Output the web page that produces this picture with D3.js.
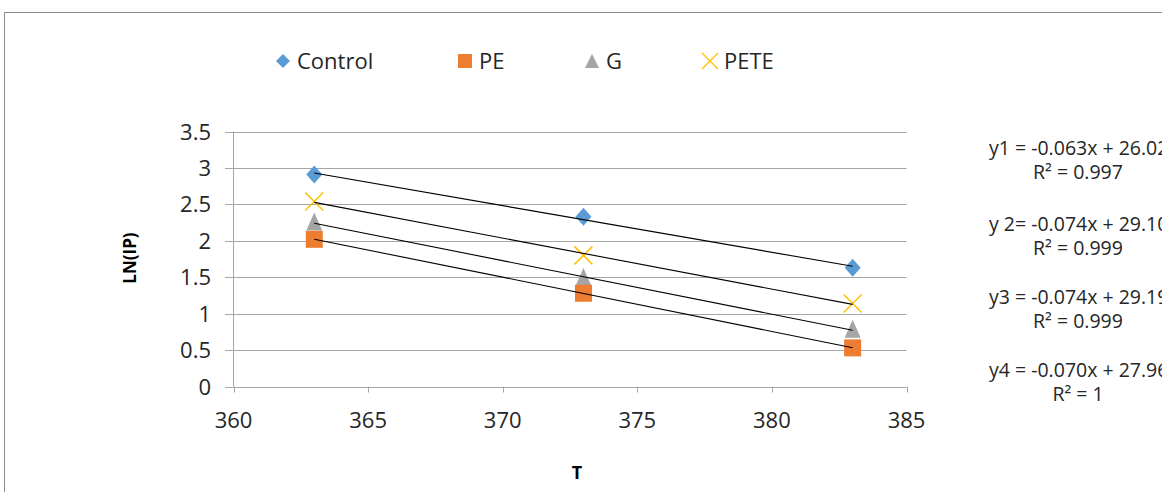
<!DOCTYPE html>
<html>
<head>
<meta charset="utf-8">
<script src="https://cdn.jsdelivr.net/npm/d3@7"></script>
<style>
  html, body { margin: 0; padding: 0; background: #fff; }
  svg { display: block; }
</style>
</head>
<body>
<div id="chart"></div>
<script>
// temperatures (T) and LN(IP) per series
const temps = [363, 373, 383];
const controlVals = [2.91, 2.33, 1.63];
const peVals = [2.02, 1.28, 0.53];
const gVals = [2.25, 1.49, 0.78];
const peteVals = [2.54, 1.80, 1.14];

const seriesNames = ["Control", "PE", "G", "PETE"];
const yTicks = [0, 0.5, 1, 1.5, 2, 2.5, 3, 3.5];
const xTicks = [360, 365, 370, 375, 380, 385];

const equations = [
  ["y1 = -0.063x + 26.02", "R\u00b2 = 0.997"],
  ["y 2= -0.074x + 29.10", "R\u00b2 = 0.999"],
  ["y3 = -0.074x + 29.19", "R\u00b2 = 0.999"],
  ["y4 = -0.070x + 27.96", "R\u00b2 = 1"]
];

const width = 1162, height = 492;
const FONT = "'Open Sans', 'Noto Sans', sans-serif";

const series = [
  { name: "Control", values: controlVals, color: "#5b9bd5", shape: "diamond" },
  { name: "PE", values: peVals, color: "#ed7d31", shape: "square" },
  { name: "G", values: gVals, color: "#a5a5a5", shape: "triangle" },
  { name: "PETE", values: peteVals, color: "#ffc000", shape: "x" }
];

const svg = d3.select("#chart").append("svg")
  .attr("width", width)
  .attr("height", height);

// chart frame (runs off the right and bottom edges)
svg.append("rect")
  .attr("x", 4.5).attr("y", 12.5)
  .attr("width", 1300).attr("height", 600)
  .attr("fill", "#fff")
  .attr("stroke", "#8c8c8c")
  .attr("stroke-width", 1);

const x = d3.scaleLinear().domain([360, 385]).range([233.5, 906.5]);
const y = d3.scaleLinear().domain([0, 3.5]).range([386.5, 131.5]);

// horizontal gridlines + left ticks
svg.append("g").selectAll("line").data(yTicks).join("line")
  .attr("x1", 225).attr("x2", x(385))
  .attr("y1", d => Math.round(y(d)) + 0.5).attr("y2", d => Math.round(y(d)) + 0.5)
  .attr("stroke", "#a6a6a6").attr("stroke-width", 1);

// y axis line
svg.append("line")
  .attr("x1", x(360)).attr("x2", x(360))
  .attr("y1", y(3.5)).attr("y2", y(0))
  .attr("stroke", "#a6a6a6");

// x ticks
svg.append("g").selectAll("line").data(xTicks).join("line")
  .attr("x1", d => Math.round(x(d)) + 0.5).attr("x2", d => Math.round(x(d)) + 0.5)
  .attr("y1", y(0)).attr("y2", y(0) + 6)
  .attr("stroke", "#a6a6a6");

// tick labels
svg.append("g").selectAll("text").data(yTicks).join("text")
  .attr("x", 211).attr("y", d => y(d) + 8)
  .attr("text-anchor", "end")
  .attr("font-family", FONT).attr("font-size", 22).attr("fill", "#262626")
  .text(d => d);

svg.append("g").selectAll("text").data(xTicks).join("text")
  .attr("x", d => x(d)).attr("y", 428)
  .attr("text-anchor", "middle")
  .attr("font-family", FONT).attr("font-size", 22).attr("fill", "#262626")
  .text(d => d);

// axis titles
svg.append("text")
  .attr("transform", "translate(136,258) rotate(-90)")
  .attr("text-anchor", "middle")
  .attr("font-family", FONT).attr("font-size", 17).attr("font-weight", "bold").attr("fill", "#000")
  .text("LN(IP)");

svg.append("text")
  .attr("x", 577).attr("y", 479)
  .attr("text-anchor", "middle")
  .attr("font-family", FONT).attr("font-size", 18).attr("font-weight", "bold").attr("fill", "#000")
  .text("T");

function drawMarker(g, shape, color, cx, cy) {
  if (shape === "diamond") {
    g.append("path").attr("d", `M${cx},${cy - 9}L${cx + 8},${cy}L${cx},${cy + 9}L${cx - 8},${cy}Z`).attr("fill", color);
  } else if (shape === "square") {
    g.append("rect").attr("x", cx - 8.5).attr("y", cy - 8.5).attr("width", 17).attr("height", 17).attr("fill", color);
  } else if (shape === "triangle") {
    g.append("path").attr("d", `M${cx},${cy - 10}L${cx + 8},${cy + 8}L${cx - 8},${cy + 8}Z`).attr("fill", color);
  } else {
    g.append("path").attr("d", `M${cx - 9},${cy - 9}L${cx + 9},${cy + 9}M${cx + 9},${cy - 9}L${cx - 9},${cy + 9}`)
      .attr("stroke", color).attr("stroke-width", 1.5).attr("fill", "none");
  }
}

// markers (triangles beneath squares)
const drawOrder = ["G", "PE", "PETE", "Control"];
const markers = svg.append("g");
drawOrder.forEach(name => {
  const s = series.find(d => d.name === name);
  s.values.forEach((v, i) => drawMarker(markers, s.shape, s.color, x(temps[i]), y(v)));
});

// linear trendlines from least squares fit
function fit(xs, ys) {
  const mx = d3.mean(xs), my = d3.mean(ys);
  const b = d3.sum(xs, (d, i) => (d - mx) * (ys[i] - my)) / d3.sum(xs, d => (d - mx) ** 2);
  return { b, a: my - b * mx };
}
const trend = svg.append("g");
series.forEach(s => {
  const f = fit(temps, s.values);
  const x0 = d3.min(temps), x1 = d3.max(temps);
  trend.append("line")
    .attr("x1", x(x0)).attr("y1", y(f.a + f.b * x0))
    .attr("x2", x(x1)).attr("y2", y(f.a + f.b * x1))
    .attr("stroke", "#000").attr("stroke-width", 1.1);
});

// legend
const legendX = [283, 465, 592, 710];
const legend = svg.append("g");
series.forEach((s, i) => {
  const cx = legendX[i], cy = 61;
  if (s.shape === "diamond") {
    legend.append("path").attr("d", `M${cx},${cy - 7}L${cx + 7},${cy}L${cx},${cy + 7}L${cx - 7},${cy}Z`).attr("fill", s.color);
  } else if (s.shape === "square") {
    legend.append("rect").attr("x", cx - 7).attr("y", cy - 7).attr("width", 14).attr("height", 14).attr("fill", s.color);
  } else if (s.shape === "triangle") {
    legend.append("path").attr("d", `M${cx},${cy - 7}L${cx + 7},${cy + 7}L${cx - 7},${cy + 7}Z`).attr("fill", s.color);
  } else {
    legend.append("path").attr("d", `M${cx - 8},${cy - 8}L${cx + 8},${cy + 8}M${cx + 8},${cy - 8}L${cx - 8},${cy + 8}`)
      .attr("stroke", s.color).attr("stroke-width", 1.3);
  }
  legend.append("text")
    .attr("x", cx + 14).attr("y", cy + 8)
    .attr("font-family", FONT).attr("font-size", 22).attr("fill", "#262626")
    .text(seriesNames[i]);
});

// trendline equations
const eqY = [155, 231, 304, 377];
const eq = svg.append("g").attr("font-family", FONT).attr("font-size", 19.5).attr("fill", "#262626");
equations.forEach((e, i) => {
  eq.append("text").attr("x", 989).attr("y", eqY[i]).text(e[0]);
  eq.append("text").attr("x", 1078).attr("y", eqY[i] + 24).attr("text-anchor", "middle").text(e[1]);
});
</script>
</body>
</html>
